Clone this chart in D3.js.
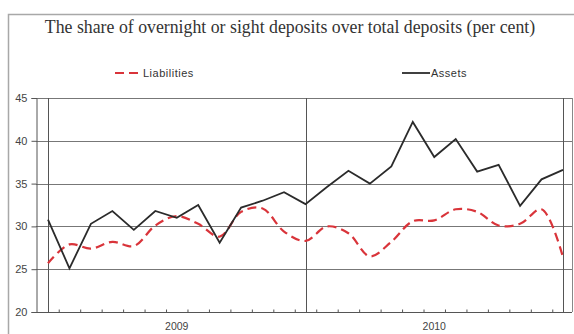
<!DOCTYPE html>
<html>
<head>
<meta charset="utf-8">
<script src="https://cdn.jsdelivr.net/npm/d3@7"></script>
<style>
  body { margin: 0; background: #fff; }
  svg { display: block; }
</style>
</head>
<body>
<div id="chart"></div>
<script>
// monthly observations, Dec 2008 .. Dec 2010
var months = d3.range(25);
var assets = [30.8, 25.1, 30.3, 31.8, 29.6, 31.8, 31.0, 32.5, 28.1, 32.2, 33.0, 34.0,
    32.6, 34.6, 36.5, 35.0, 37.0, 42.2, 38.1, 40.2, 36.4, 37.2, 32.4, 35.5, 36.6];
var liabilities = [25.7, 27.9, 27.4, 28.2, 27.7, 30.1, 31.2, 30.3, 28.8, 31.7, 32.1, 29.4,
    28.3, 30.0, 29.2, 26.5, 28.2, 30.6, 30.7, 32.0, 31.7, 30.1, 30.3, 32.0, 26.4];
var yTicks = [20, 25, 30, 35, 40, 45];
var years = [{ label: "2009", from: 0, to: 12 }, { label: "2010", from: 12, to: 24 }];
var yearBreaks = [0, 12, 24];

var width = 574, height = 334;
var plot = { left: 36, right: 572, top: 98, bottom: 312 };

var svg = d3.select("#chart")
    .append("svg")
    .attr("width", width)
    .attr("height", height);

// outer frame
svg.append("rect")
    .attr("x", 8.5).attr("y", 14.5)
    .attr("width", 575).attr("height", 340)
    .attr("fill", "none")
    .attr("stroke", "#a8a8a8")
    .attr("stroke-width", 1.5);

// title
svg.append("text")
    .attr("x", 290).attr("y", 33)
    .attr("text-anchor", "middle")
    .style("font-family", "'Liberation Serif', 'Times New Roman', serif")
    .style("font-size", "17.8px")
    .style("fill", "#333")
    .text("The share of overnight or sight deposits over total deposits (per cent)");

// scales
var x = d3.scaleLinear().domain([0, 24]).range([48, 563]);
var y = d3.scaleLinear().domain([20, 45]).range([plot.bottom, plot.top]);

// horizontal gridlines
svg.append("g")
    .selectAll("line")
    .data(yTicks.filter(d => d > 20))
    .enter()
    .append("line")
    .attr("x1", plot.left).attr("x2", plot.right)
    .attr("y1", d => Math.round(y(d)) + 0.5)
    .attr("y2", d => Math.round(y(d)) + 0.5)
    .attr("stroke", "#777")
    .attr("stroke-width", 1);

// year separators
svg.append("g")
    .selectAll("line")
    .data(yearBreaks)
    .enter()
    .append("line")
    .attr("x1", d => Math.round(x(d)) + 0.5)
    .attr("x2", d => Math.round(x(d)) + 0.5)
    .attr("y1", plot.top).attr("y2", plot.bottom)
    .attr("stroke", "#555")
    .attr("stroke-width", 1);

// right border of the plot area
svg.append("line")
    .attr("x1", plot.right + 0.5).attr("x2", plot.right + 0.5)
    .attr("y1", plot.top).attr("y2", plot.bottom)
    .attr("stroke", "#888");

// y axis
var yAxis = svg.append("g")
    .attr("transform", "translate(" + (plot.left + 0.5) + ",0)")
    .call(d3.axisLeft(y).tickValues(yTicks).tickSize(5).tickPadding(4));
yAxis.select(".domain").attr("stroke", "#555");
yAxis.selectAll(".tick line").attr("stroke", "#555");
yAxis.selectAll("text")
    .style("font-family", "'Liberation Sans', Arial, sans-serif")
    .style("font-size", "11px")
    .style("fill", "#444");

// x axis with month ticks between observations
var xAxis = svg.append("g")
    .attr("transform", "translate(0," + (plot.bottom + 0.5) + ")")
    .call(d3.axisBottom(x).tickValues(d3.range(0.5, 24, 1)).tickSize(-3).tickFormat(""));
xAxis.select(".domain").remove();
xAxis.selectAll(".tick line").attr("stroke", "#555");
xAxis.append("line")
    .attr("x1", plot.left).attr("x2", plot.right)
    .attr("stroke", "#555");

svg.append("g")
    .selectAll("text")
    .data(years)
    .enter()
    .append("text")
    .attr("x", d => x((d.from + d.to) / 2))
    .attr("y", 330)
    .attr("text-anchor", "middle")
    .style("font-family", "'Liberation Sans', Arial, sans-serif")
    .style("font-size", "10.5px")
    .style("fill", "#444")
    .text(d => d.label);

// lines
var liabLine = d3.line()
    .x((d, i) => x(months[i]))
    .y(d => y(d))
    .curve(d3.curveCatmullRom.alpha(0.5));

var assetLine = d3.line()
    .x((d, i) => x(months[i]))
    .y(d => y(d));

svg.append("path")
    .datum(liabilities)
    .attr("d", liabLine)
    .attr("fill", "none")
    .attr("stroke", "#d9343a")
    .attr("stroke-width", 2.2)
    .attr("stroke-dasharray", "9,5");

svg.append("path")
    .datum(assets)
    .attr("d", assetLine)
    .attr("fill", "none")
    .attr("stroke", "#2b2b2b")
    .attr("stroke-width", 1.8);

// legend
var legend = svg.append("g")
    .style("font-family", "'Liberation Sans', Arial, sans-serif")
    .style("font-size", "11px")
    .style("letter-spacing", "0.5px")
    .style("fill", "#333");

legend.append("line")
    .attr("x1", 115).attr("x2", 142).attr("y1", 73).attr("y2", 73)
    .attr("stroke", "#d9343a").attr("stroke-width", 2.2)
    .attr("stroke-dasharray", "9,5");
legend.append("text").attr("x", 143).attr("y", 77).text("Liabilities");

legend.append("line")
    .attr("x1", 402).attr("x2", 430).attr("y1", 73).attr("y2", 73)
    .attr("stroke", "#2b2b2b").attr("stroke-width", 1.8);
legend.append("text").attr("x", 431).attr("y", 77).text("Assets");
</script>
</body>
</html>
